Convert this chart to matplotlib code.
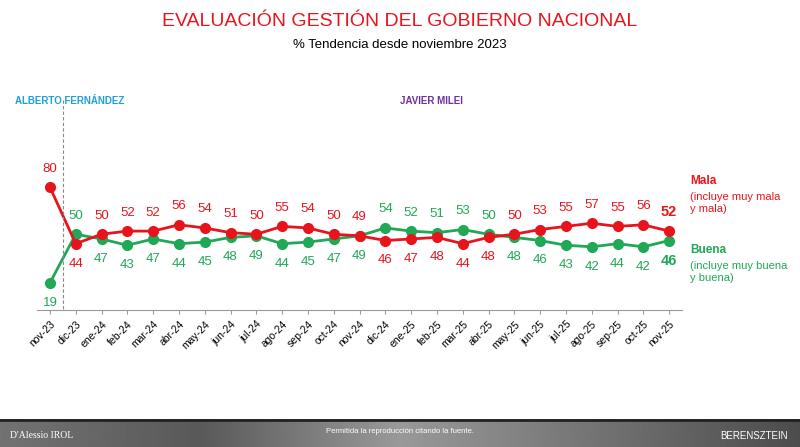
import numpy as np
import matplotlib
matplotlib.use("Agg")
import matplotlib.pyplot as plt

plt.rcParams["font.family"] = ["Liberation Sans", "DejaVu Sans"]

months = ["nov-23", "dic-23", "ene-24", "feb-24", "mar-24", "abr-24", "may-24", "jun-24",
          "jul-24", "ago-24", "sep-24", "oct-24", "nov-24", "dic-24", "ene-25", "feb-25",
          "mar-25", "abr-25", "may-25", "jun-25", "jul-25", "ago-25", "sep-25", "oct-25", "nov-25"]
mala = [80, 44, 50, 52, 52, 56, 54, 51, 50, 55, 54, 50, 49, 46, 47, 48, 44, 48, 50, 53, 55, 57, 55, 56, 52]
buena = [19, 50, 47, 43, 47, 44, 45, 48, 49, 44, 45, 47, 49, 54, 52, 51, 53, 50, 48, 46, 43, 42, 44, 42, 46]

RED = "#e8141c"
GREEN = "#1fa855"
W, H = 800, 447

fig = plt.figure(figsize=(8, 4.47), dpi=100)
ax = fig.add_axes([37 / W, 1 - 310 / H, 645 / W, 160 / H])
x = np.arange(len(months))

ax.plot(x, buena, color=GREEN, lw=2, marker="o", ms=7, zorder=3)
ax.plot(x, mala, color=RED, lw=2, marker="o", ms=7, zorder=4)

for i in x:
    last = i == len(months) - 1
    kw = dict(ha="center", fontsize=10.5 if last else 9.5, fontweight="bold" if last else "normal")
    for vals, other, col, tie_up in ((mala, buena, RED, True), (buena, mala, GREEN, False)):
        up = vals[i] > other[i] or (vals[i] == other[i] and tie_up)
        ax.annotate(str(vals[i]), (i, vals[i]), xytext=(0, 9 if up else -10),
                    textcoords="offset points", va="bottom" if up else "top", color=col, **kw)

ax.set_xlim(-0.5, 24.5)
ax.set_ylim(1.8, 103.6)
ax.set_xticks(x)
ax.set_xticklabels(months, rotation=45, ha="right", rotation_mode="anchor", fontsize=7.5)
ax.tick_params(axis="x", length=3, color="#999999")
ax.set_yticks([])
for s in ["top", "right", "left"]:
    ax.spines[s].set_visible(False)
ax.spines["bottom"].set_color("#999999")

# separador de gobiernos
fig.add_artist(plt.Line2D([63 / W, 63 / W], [1 - 100 / H, 1 - 310 / H], color="#888888",
                          lw=0.8, ls=(0, (3, 2))))
fig.text(15 / W, 1 - 101 / H, "ALBERTO FERNÁNDEZ", color="#1ea0dc", fontsize=7,
         fontweight="bold", va="center")
fig.text(400 / W, 1 - 101 / H, "JAVIER MILEI", color="#7030a0", fontsize=7,
         fontweight="bold", va="center")

fig.text(400 / W, 1 - 22 / H, "EVALUACIÓN GESTIÓN DEL GOBIERNO NACIONAL", color=RED,
         fontsize=14, ha="center", va="center")
fig.text(400 / W, 1 - 45 / H, "% Tendencia desde noviembre 2023", color="black",
         fontsize=9.5, ha="center", va="center")

fig.text(690 / W, 1 - 181 / H, "Mala", color=RED, fontsize=8.5, fontweight="bold", va="center")
fig.text(690 / W, 1 - 203 / H, "(incluye muy mala\ny mala)", color=RED, fontsize=8, va="center",
         linespacing=1.2)
fig.text(690 / W, 1 - 250 / H, "Buena", color=GREEN, fontsize=8.5, fontweight="bold", va="center")
fig.text(690 / W, 1 - 272 / H, "(incluye muy buena\ny buena)", color=GREEN, fontsize=8,
         va="center", linespacing=1.2)

# pie de pagina
fax = fig.add_axes([0, 0, 1, 28 / H])
grad = np.tile(np.concatenate([np.linspace(0.45, 0.35, 200), np.linspace(0.35, 0.6, 200),
                               np.linspace(0.6, 0.3, 400)]), (10, 1))
fax.imshow(grad, cmap="gray", vmin=0, vmax=1, aspect="auto", extent=[0, 1, 0, 1])
fax.axhline(0.97, color="#222222", lw=2)
fax.set_axis_off()
fax.text(0.012, 0.4, "D'Alessio IROL", color="white", fontsize=7, family="Liberation Serif", va="center")
fax.text(0.5, 0.55, "Permitida la reproducción citando la fuente.", color="white", fontsize=5.5,
         ha="center", va="center")
fax.text(0.985, 0.4, "BERENSZTEIN", color="white", fontsize=7, ha="right", va="center")

fig.savefig("out.png", dpi=100)
